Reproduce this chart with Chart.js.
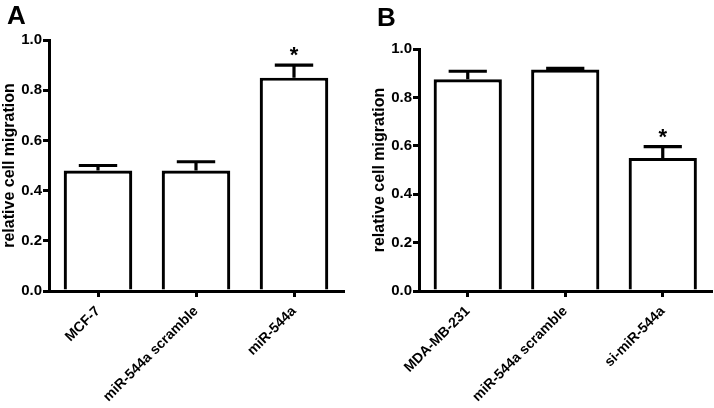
<!DOCTYPE html>
<html>
<head>
<meta charset="utf-8">
<script src="https://cdn.jsdelivr.net/npm/chart.js@4"></script>
<style>
  html, body { margin: 0; padding: 0; background: #fff; overflow: hidden; }
  #wrapA { position: absolute; left: 0; top: 0; width: 360px; height: 408px; }
  #wrapB { position: absolute; left: 370px; top: 0; width: 344px; height: 408px; }
</style>
</head>
<body>
<div id="wrapA"><canvas id="chartA"></canvas></div>
<div id="wrapB"><canvas id="chartB"></canvas></div>
<script>
// panel A
const categoriesA = ['MCF-7', 'miR-544a scramble', 'miR-544a'];
const valuesA = [0.48, 0.48, 0.85];
const errorsA = [0.02, 0.035, 0.05];
const marksA = ['', '', '*'];

// panel B
const categoriesB = ['MDA-MB-231', 'miR-544a scramble', 'si-miR-544a'];
const valuesB = [0.875, 0.915, 0.55];
const errorsB = [0.033, 0.005, 0.047];
const marksB = ['', '', '*'];

const yTicks = [0.0, 0.2, 0.4, 0.6, 0.8, 1.0];

Chart.defaults.font.family = '"Liberation Sans", Arial, sans-serif';
Chart.defaults.font.weight = 'bold';
Chart.defaults.color = '#000';

// SEM bars (upper half only) + significance marks
const errorBars = {
  id: 'errorBars',
  afterDatasetsDraw(chart) {
    const ctx = chart.ctx;
    const y = chart.scales.y;
    const ds = chart.data.datasets[0];
    const meta = chart.getDatasetMeta(0);
    ctx.save();
    ctx.strokeStyle = '#000';
    ctx.fillStyle = '#000';
    ctx.lineWidth = 3.2;
    meta.data.forEach((bar, i) => {
      const top = y.getPixelForValue(ds.data[i] + ds.errors[i]);
      const half = bar.width * 0.28;
      ctx.beginPath();
      ctx.moveTo(bar.x, bar.y);
      ctx.lineTo(bar.x, top);
      ctx.moveTo(bar.x - half, top);
      ctx.lineTo(bar.x + half, top);
      ctx.stroke();
      if (ds.marks[i]) {
        ctx.font = 'bold 22px "Liberation Sans"';
        ctx.textAlign = 'center';
        ctx.textBaseline = 'alphabetic';
        ctx.fillText(ds.marks[i], bar.x, top - 3);
      }
    });
    ctx.restore();
  }
};

const panelLetter = {
  id: 'panelLetter',
  afterDraw(chart, args, opts) {
    const ctx = chart.ctx;
    ctx.save();
    ctx.font = 'bold 26px "Liberation Sans"';
    ctx.fillStyle = '#000';
    ctx.textAlign = 'left';
    ctx.textBaseline = 'alphabetic';
    ctx.fillText(opts.text, opts.x, opts.y);
    ctx.restore();
  }
};

function makeChart(id, letter, letterY, cats, vals, errs, marks, padTop, padRight) {
  new Chart(document.getElementById(id), {
    type: 'bar',
    data: {
      labels: cats,
      datasets: [{
        data: vals,
        errors: errs,
        marks: marks,
        backgroundColor: '#fff',
        borderColor: '#000',
        borderWidth: 3.2,
        barPercentage: 0.7,
        categoryPercentage: 1.0
      }]
    },
    options: {
      responsive: true,
      maintainAspectRatio: false,
      animation: false,
      layout: { padding: { top: padTop, right: padRight, left: 0, bottom: 0 } },
      plugins: {
        legend: { display: false },
        tooltip: { enabled: false },
        panelLetter: { text: letter, x: 7, y: letterY }
      },
      scales: {
        x: {
          grid: { drawOnChartArea: false, offset: false, color: '#000', lineWidth: 3, tickLength: 6 },
          border: { color: '#000', width: 3 },
          ticks: { color: '#000', font: { size: 14, weight: 'bold' }, minRotation: 45, maxRotation: 45, autoSkip: false, padding: 6 },
          afterFit: s => { s.height = 117; }
        },
        y: {
          min: 0,
          max: 1,
          afterBuildTicks: s => { s.ticks = yTicks.map(v => ({ value: v })); },
          grid: { drawOnChartArea: false, color: '#000', lineWidth: 3, tickLength: 6 },
          border: { color: '#000', width: 3 },
          ticks: { color: '#000', font: { size: 15, weight: 'bold' }, padding: 1, callback: v => v.toFixed(1) },
          title: { display: true, text: 'relative cell migration', color: '#000', font: { size: 16, weight: 'bold' }, padding: 0 },
          afterFit: s => { s.width = 49; }
        }
      }
    },
    plugins: [errorBars, panelLetter]
  });
}

makeChart('chartA', 'A', 24, categoriesA, valuesA, errorsA, marksA, 40, 17);
makeChart('chartB', 'B', 26, categoriesB, valuesB, errorsB, marksB, 49, 2.5);
</script>
</body>
</html>
